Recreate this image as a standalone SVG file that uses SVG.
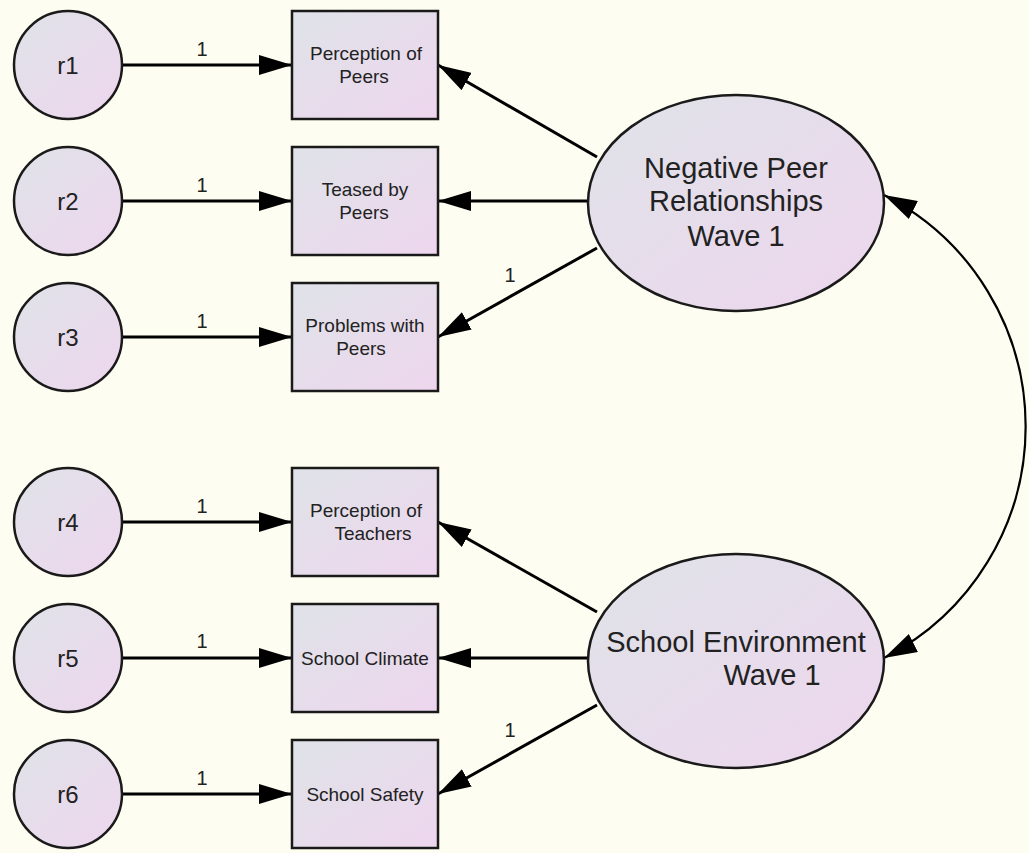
<svg xmlns="http://www.w3.org/2000/svg" width="1029" height="853" viewBox="0 0 1029 853">
<defs>
<linearGradient id="g" x1="0" y1="0" x2="1" y2="1">
<stop offset="0" stop-color="#dfe3e8"/>
<stop offset="1" stop-color="#eed6ee"/>
</linearGradient>
<marker id="ah" markerUnits="userSpaceOnUse" markerWidth="34" markerHeight="20" refX="33" refY="10" orient="auto-start-reverse" viewBox="0 0 34 20">
<path d="M0,0 L33,10 L0,20 z" fill="#000"/>
</marker>
<style>
.sh{fill:url(#g);stroke:#1a1a1a;stroke-width:2.5}
.ln{fill:none;stroke:#000;stroke-width:3;marker-end:url(#ah)}
.arc{fill:none;stroke:#000;stroke-width:2.2;marker-start:url(#ah);marker-end:url(#ah)}
.sm{font-family:"Liberation Sans",Arial,sans-serif;font-size:19px;fill:#222;text-anchor:middle}
.rl{font-family:"Liberation Sans",Arial,sans-serif;font-size:24px;fill:#222;text-anchor:middle}
.big{font-family:"Liberation Sans",Arial,sans-serif;font-size:29px;fill:#222;text-anchor:middle}
.one{font-family:"Liberation Sans",Arial,sans-serif;font-size:20px;fill:#222;text-anchor:middle}
</style>
</defs>
<rect width="1029" height="853" fill="#fdfdf1"/>

<g id="connectors">
<line class="ln" x1="123" y1="65" x2="292" y2="65"/>
<line class="ln" x1="123" y1="201" x2="292" y2="201"/>
<line class="ln" x1="123" y1="337" x2="292" y2="337"/>
<line class="ln" x1="123" y1="522" x2="292" y2="522"/>
<line class="ln" x1="123" y1="658" x2="292" y2="658"/>
<line class="ln" x1="123" y1="794" x2="292" y2="794"/>
<line class="ln" x1="597" y1="157" x2="438" y2="65"/>
<line class="ln" x1="588" y1="201" x2="438" y2="201"/>
<line class="ln" x1="597" y1="248" x2="438" y2="337"/>
<line class="ln" x1="597" y1="612" x2="438" y2="522"/>
<line class="ln" x1="588" y1="658" x2="438" y2="658"/>
<line class="ln" x1="597" y1="705" x2="438" y2="794"/>
<path class="arc" d="M884,195 A260,260 0 0 1 884,658"/>
<text class="one" x="202" y="56">1</text>
<text class="one" x="202" y="192">1</text>
<text class="one" x="202" y="328">1</text>
<text class="one" x="202" y="513">1</text>
<text class="one" x="202" y="648">1</text>
<text class="one" x="202" y="785">1</text>
<text class="one" x="510" y="282">1</text>
<text class="one" x="510" y="737">1</text>
</g>

<g id="r1"><circle class="sh" cx="68" cy="65" r="54"/><text class="rl" x="68" y="74">r1</text></g>
<g id="r2"><circle class="sh" cx="68" cy="201" r="54"/><text class="rl" x="68" y="210">r2</text></g>
<g id="r3"><circle class="sh" cx="68" cy="337" r="54"/><text class="rl" x="68" y="346">r3</text></g>
<g id="r4"><circle class="sh" cx="68" cy="522" r="54"/><text class="rl" x="68" y="531">r4</text></g>
<g id="r5"><circle class="sh" cx="68" cy="658" r="54"/><text class="rl" x="68" y="667">r5</text></g>
<g id="r6"><circle class="sh" cx="68" cy="794" r="54"/><text class="rl" x="68" y="803">r6</text></g>

<g id="perception-peers"><rect class="sh" x="292" y="11" width="146" height="108"/><text class="sm" x="366" y="60">Perception of</text><text class="sm" x="364" y="83">Peers</text></g>
<g id="teased-peers"><rect class="sh" x="292" y="147" width="146" height="108"/><text class="sm" x="365" y="196">Teased by</text><text class="sm" x="364" y="219">Peers</text></g>
<g id="problems-peers"><rect class="sh" x="292" y="283" width="146" height="108"/><text class="sm" x="365" y="332">Problems with</text><text class="sm" x="361" y="355">Peers</text></g>
<g id="perception-teachers"><rect class="sh" x="292" y="468" width="146" height="108"/><text class="sm" x="366" y="517">Perception of</text><text class="sm" x="373" y="540">Teachers</text></g>
<g id="school-climate"><rect class="sh" x="292" y="604" width="146" height="108"/><text class="sm" x="365" y="665">School Climate</text></g>
<g id="school-safety"><rect class="sh" x="292" y="740" width="146" height="108"/><text class="sm" x="365" y="801">School Safety</text></g>

<g id="negative-peer"><ellipse class="sh" cx="736" cy="203" rx="148" ry="108"/><text class="big" x="736" y="178">Negative Peer</text><text class="big" x="736" y="211">Relationships</text><text class="big" x="736" y="246">Wave 1</text></g>
<g id="school-env"><ellipse class="sh" cx="736" cy="661" rx="148" ry="107"/><text class="big" x="736" y="652">School Environment</text><text class="big" x="772" y="685">Wave 1</text></g>
</svg>
